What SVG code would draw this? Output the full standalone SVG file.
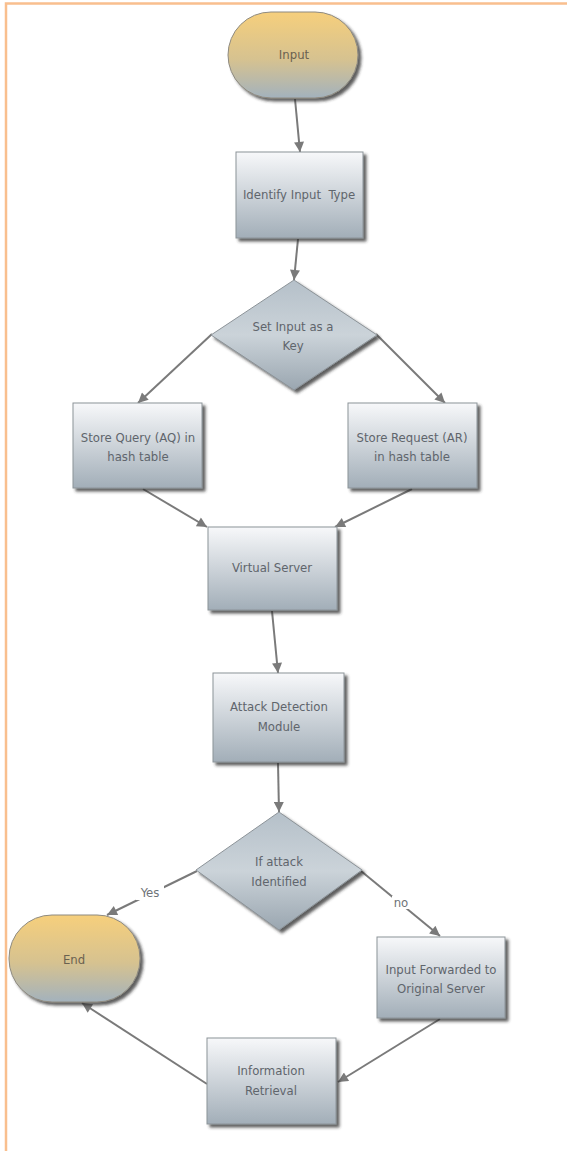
<svg xmlns="http://www.w3.org/2000/svg" width="567" height="1151" viewBox="0 0 567 1151">
<defs>
<linearGradient id="gTerm" x1="0" y1="0" x2="0" y2="1">
<stop offset="0" stop-color="#F6CF7C"/>
<stop offset="0.55" stop-color="#D6C290"/>
<stop offset="1" stop-color="#A3B2BD"/>
</linearGradient>
<linearGradient id="gBox" x1="0" y1="0" x2="0" y2="1">
<stop offset="0" stop-color="#F7F8FA"/>
<stop offset="1" stop-color="#A2AEB8"/>
</linearGradient>
<linearGradient id="gDia" x1="0" y1="0" x2="0" y2="1">
<stop offset="0" stop-color="#B5C0C9"/>
<stop offset="0.5" stop-color="#CBD3D9"/>
<stop offset="1" stop-color="#9AA6B0"/>
</linearGradient>
<filter id="sh" x="-20%" y="-20%" width="140%" height="140%">
<feDropShadow dx="3" dy="3" stdDeviation="1.5" flood-color="#2a2a2a" flood-opacity="0.75"/>
</filter>
<marker id="arr" viewBox="0 0 10 10" refX="10" refY="5" markerWidth="13" markerHeight="10" markerUnits="userSpaceOnUse" orient="auto">
<path d="M0,0 L10,5 L0,10 Z" fill="#7A7A7A"/>
</marker>
<style>
.term{fill:url(#gTerm);stroke:#8E8A80;stroke-width:1;filter:url(#sh)}
.box{fill:url(#gBox);stroke:#8C9398;stroke-width:1;filter:url(#sh)}
.dia{fill:url(#gDia);stroke:#8C9398;stroke-width:1;filter:url(#sh)}
.t{font-family:"DejaVu Sans Condensed","Liberation Sans",sans-serif;font-size:13px;fill:#5F656C;text-anchor:middle}
.tt{font-family:"DejaVu Sans Condensed","Liberation Sans",sans-serif;font-size:13px;fill:#6A6150;text-anchor:middle}
.lbl{font-family:"DejaVu Sans Condensed","Liberation Sans",sans-serif;font-size:13px;fill:#6E7378;text-anchor:middle}
.c{stroke:#7A7A7A;stroke-width:2;fill:none;marker-end:url(#arr)}
.frame{stroke:#F9BF8E;stroke-width:2.5;fill:none}
</style>
</defs>
<rect x="0" y="0" width="567" height="1151" fill="#FFFFFF"/>
<path class="frame" d="M6,1151 L6,3.5 L567,3.5"/>

<g id="connectors">
<line class="c" x1="295" y1="99" x2="300" y2="152"/>
<line class="c" x1="298" y1="239" x2="294" y2="280"/>
<line class="c" x1="212" y1="334" x2="138" y2="403"/>
<line class="c" x1="376" y1="334" x2="445" y2="403"/>
<line class="c" x1="143" y1="489" x2="207" y2="527"/>
<line class="c" x1="412" y1="489" x2="335" y2="527"/>
<line class="c" x1="272" y1="611" x2="278" y2="673"/>
<line class="c" x1="278" y1="763" x2="279" y2="812"/>
<line class="c" x1="197" y1="871" x2="107" y2="915"/>
<line class="c" x1="361" y1="871" x2="440" y2="936"/>
<line class="c" x1="440" y1="1019" x2="338" y2="1082"/>
<line class="c" x1="207" y1="1084" x2="82" y2="1003"/>
<rect x="136" y="885" width="28" height="15" fill="#FFFFFF"/>
<text class="lbl" x="150" y="897">Yes</text>
<rect x="392" y="896" width="18" height="13" fill="#FFFFFF"/>
<text class="lbl" x="401" y="907">no</text>
</g>

<g id="input">
<rect class="term" x="228" y="12" width="130" height="86" rx="43" ry="43"/>
<text class="tt" x="294" y="59">Input</text>
</g>
<g id="identify">
<rect class="box" x="236" y="152" width="127" height="86"/>
<text class="t" x="299" y="199" xml:space="preserve">Identify Input  Type</text>
</g>
<g id="setkey">
<polygon class="dia" points="294,280 377,335 294,390 211,335"/>
<text class="t" x="293" y="331">Set Input as a</text>
<text class="t" x="293" y="350">Key</text>
</g>
<g id="storequery">
<rect class="box" x="73" y="403" width="129" height="85"/>
<text class="t" x="138" y="442">Store Query (AQ) in</text>
<text class="t" x="138" y="461">hash table</text>
</g>
<g id="storerequest">
<rect class="box" x="348" y="403" width="129" height="85"/>
<text class="t" x="412" y="442">Store Request (AR)</text>
<text class="t" x="412" y="461">in hash table</text>
</g>
<g id="virtualserver">
<rect class="box" x="208" y="527" width="129" height="83"/>
<text class="t" x="272" y="572">Virtual Server</text>
</g>
<g id="attack">
<rect class="box" x="213" y="673" width="131" height="89"/>
<text class="t" x="279" y="711">Attack Detection</text>
<text class="t" x="279" y="731">Module</text>
</g>
<g id="ifattack">
<polygon class="dia" points="279,812 362,870 279,930 196,870"/>
<text class="t" x="279" y="866">If attack</text>
<text class="t" x="279" y="886">Identified</text>
</g>
<g id="end">
<rect class="term" x="9" y="915" width="131" height="87" rx="43" ry="43"/>
<text class="tt" x="74" y="964">End</text>
</g>
<g id="forwarded">
<rect class="box" x="377" y="937" width="128" height="81"/>
<text class="t" x="441" y="974">Input Forwarded to</text>
<text class="t" x="441" y="993">Original Server</text>
</g>
<g id="retrieval">
<rect class="box" x="207" y="1038" width="129" height="86"/>
<text class="t" x="271" y="1075">Information</text>
<text class="t" x="271" y="1095">Retrieval</text>
</g>
</svg>
